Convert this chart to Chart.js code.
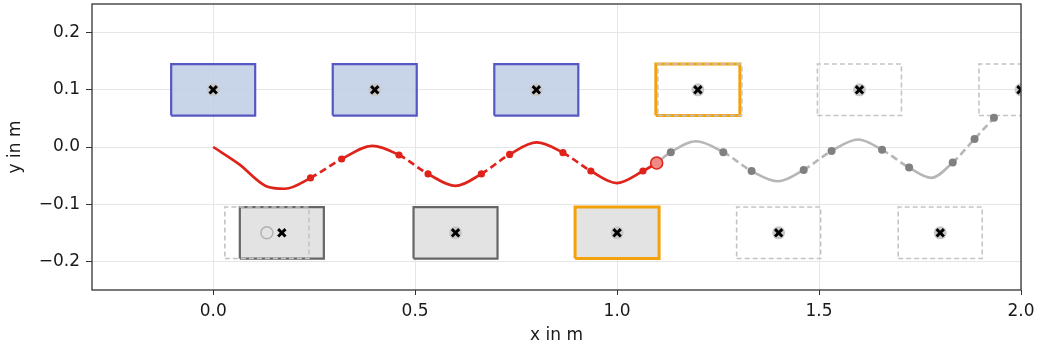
<!DOCTYPE html>
<html>
<head>
<meta charset="utf-8">
<script src="https://cdn.jsdelivr.net/npm/chart.js@4/dist/chart.umd.min.js"></script>
<style>
  html, body { margin: 0; padding: 0; background: #fff; }
  #wrap { width: 1043px; height: 349px; }
</style>
</head>
<body>
<div id="wrap"><canvas id="plan"></canvas></div>
<script>
// axis ticks
const xTicks = [0, 0.5, 1.0, 1.5, 2.0];
const yTicks = [-0.2, -0.1, 0, 0.1, 0.2];

// gripper path (m); dot = via-point marker, red part ends at currentIdx
const pathX = [0, 0.064, 0.130, 0.178, 0.241, 0.318, 0.394, 0.460, 0.532, 0.600, 0.664, 0.734, 0.801, 0.866, 0.935, 0.999, 1.064, 1.098,
               1.133, 1.195, 1.263, 1.333, 1.399, 1.462, 1.531, 1.597, 1.656, 1.723, 1.778, 1.831, 1.885, 1.933];
const pathY = [0, -0.030, -0.068, -0.073, -0.054, -0.021, 0.002, -0.014, -0.047, -0.068, -0.047, -0.013, 0.008, -0.010, -0.042, -0.063, -0.042, -0.028,
               -0.009, 0.010, -0.009, -0.042, -0.060, -0.040, -0.007, 0.013, -0.005, -0.036, -0.054, -0.027, 0.014, 0.051];
const pathDot = [0, 0, 0, 0, 1, 1, 0, 1, 1, 0, 1, 1, 0, 1, 1, 0, 1, 0,
                 1, 0, 1, 1, 0, 1, 1, 0, 1, 1, 0, 1, 1, 1];
const currentIdx = 17;

// boxes: centres (m) and state
const topBoxX = [0, 0.4, 0.8, 1.2, 1.6, 2.0];
const topBoxState = ['done', 'done', 'done', 'active', 'next', 'next'];
const topRowY = 0.1;
const botBoxX = [0.17, 0.6, 1.0, 1.4, 1.8];
const botBoxState = ['placed', 'placed', 'activeFull', 'next', 'next'];
const botRowY = -0.15;
const ghostBoxX = [0.133, 1.205];
const ghostBoxY = [-0.15, 0.1];
const boxW = 0.208, boxH = 0.09;

const boxStyle = {
  done:       { fill: 'rgba(190,205,228,0.85)', line: '#5558c4', width: 2.2, dash: [] },
  placed:     { fill: '#e3e3e3', line: '#666', width: 2.2, dash: [] },
  active:     { fill: 'rgba(255,255,255,0)', line: '#f2a20c', width: 3, dash: [] },
  activeFull: { fill: '#e3e3e3', line: '#f2a20c', width: 3, dash: [] },
  next:       { fill: 'rgba(255,255,255,0)', line: '#c4c4c4', width: 1.6, dash: [5, 3] }
};

function boxDataset(cx, cy, state) {
  const st = boxStyle[state];
  const w = boxW / 2, h = boxH / 2;
  return {
    data: [
      { x: cx - w, y: cy - h }, { x: cx + w, y: cy - h },
      { x: cx + w, y: cy + h }, { x: cx - w, y: cy + h }, { x: cx - w, y: cy - h }
    ],
    borderColor: st.line,
    borderWidth: st.width,
    borderDash: st.dash,
    backgroundColor: st.fill,
    fill: 'shape',
    pointRadius: 0,
    tension: 0,
    borderJoinStyle: 'miter',
    clip: 0,
    order: 10
  };
}

const datasets = [];

ghostBoxX.forEach((x, i) => datasets.push(boxDataset(x, ghostBoxY[i], 'next')));
topBoxX.forEach((x, i) => datasets.push(boxDataset(x, topRowY, topBoxState[i])));
botBoxX.forEach((x, i) => datasets.push(boxDataset(x, botRowY, botBoxState[i])));

// path split into done (red) and remaining (gray)
function pathDataset(from, to, color, dotColor, width, dotR) {
  const pts = [], radii = [], dots = [];
  for (let i = from; i <= to; i++) {
    pts.push({ x: pathX[i], y: pathY[i] });
    radii.push(pathDot[i] ? dotR : 0);
    dots.push(pathDot[i]);
  }
  return {
    data: pts,
    borderColor: color,
    borderWidth: width,
    pointRadius: radii,
    pointBackgroundColor: dotColor,
    pointBorderWidth: 0,
    cubicInterpolationMode: 'monotone',
    segment: {
      borderDash: ctx => (dots[ctx.p0DataIndex] && dots[ctx.p1DataIndex]) ? [7, 4] : []
    },
    clip: 0,
    order: 5
  };
}
datasets.push(pathDataset(currentIdx, pathX.length - 1, '#b6b6b6', '#808080', 2.6, 4));
datasets.push(pathDataset(0, currentIdx, '#e0231a', '#e0231a', 2.7, 3.6));

// current gripper position
datasets.push({
  data: [{ x: pathX[currentIdx], y: pathY[currentIdx] }],
  showLine: false,
  pointRadius: 6,
  pointBackgroundColor: '#f08a84',
  pointBorderColor: '#e0231a',
  pointBorderWidth: 1.6,
  order: 2
});

// box centre markers
const centreX = topBoxX.concat(botBoxX.slice(1));
const centreY = topBoxX.map(() => topRowY).concat(botBoxX.slice(1).map(() => botRowY));
datasets.push({
  data: centreX.map((x, i) => ({ x, y: centreY[i] })),
  showLine: false,
  pointRadius: 6.5,
  pointBackgroundColor: '#c8c8c8',
  pointBorderWidth: 0,
  clip: 0,
  order: 3
});
datasets.push({
  data: centreX.map((x, i) => ({ x, y: centreY[i] })).concat([{ x: botBoxX[0], y: botRowY }]),
  showLine: false,
  pointStyle: 'crossRot',
  pointRadius: 5.2,
  pointBorderColor: '#000',
  pointBorderWidth: 2.9,
  clip: 0,
  order: 1
});
// start pose of first placed box
datasets.push({
  data: [{ x: ghostBoxX[0], y: ghostBoxY[0] }],
  showLine: false,
  pointRadius: 6,
  pointBackgroundColor: 'rgba(255,255,255,0)',
  pointBorderColor: '#b0b0b0',
  pointBorderWidth: 1.4,
  order: 2
});

const frame = {
  id: 'frame',
  afterDraw(chart) {
    const a = chart.chartArea, ctx = chart.ctx;
    ctx.save();
    ctx.strokeStyle = '#333';
    ctx.lineWidth = 1.3;
    ctx.strokeRect(a.left, a.top, a.right - a.left, a.bottom - a.top);
    ctx.restore();
  }
};

const axisFont = { family: 'DejaVu Sans', size: 17 };
const fmt = v => v.toFixed(1).replace('-', '\u2212');

new Chart(document.getElementById('plan'), {
  type: 'line',
  data: { datasets },
  options: {
    responsive: true,
    maintainAspectRatio: false,
    animation: false,
    events: [],
    layout: { autoPadding: false, padding: { top: 4, right: 22, left: 0, bottom: 0 } },
    plugins: { legend: { display: false }, tooltip: { enabled: false } },
    scales: {
      x: {
        type: 'linear',
        min: -0.3, max: 2.0,
        afterBuildTicks: s => { s.ticks = xTicks.map(v => ({ value: v })); },
        afterFit: s => { s.height = 59; s.paddingLeft = 0; s.paddingRight = 0; },
        ticks: { font: axisFont, color: '#1a1a1a', padding: 6, maxRotation: 0, callback: v => fmt(v) },
        grid: { color: '#e6e6e6', tickColor: '#333', tickLength: 5 },
        border: { display: false },
        title: { display: true, text: 'x in m', font: axisFont, color: '#1a1a1a', padding: { top: 0, bottom: 3 } }
      },
      y: {
        type: 'linear',
        min: -0.25, max: 0.25,
        afterBuildTicks: s => { s.ticks = yTicks.map(v => ({ value: v })); },
        afterFit: s => { s.width = 92; s.paddingTop = 0; s.paddingBottom = 0; },
        ticks: { font: axisFont, color: '#1a1a1a', padding: 6, callback: v => fmt(v) },
        grid: { color: '#e6e6e6', tickColor: '#333', tickLength: 6 },
        border: { display: false },
        title: { display: true, text: 'y in m', font: axisFont, color: '#1a1a1a', padding: { top: 5, bottom: 0 } }
      }
    }
  },
  plugins: [frame]
});
</script>
</body>
</html>
